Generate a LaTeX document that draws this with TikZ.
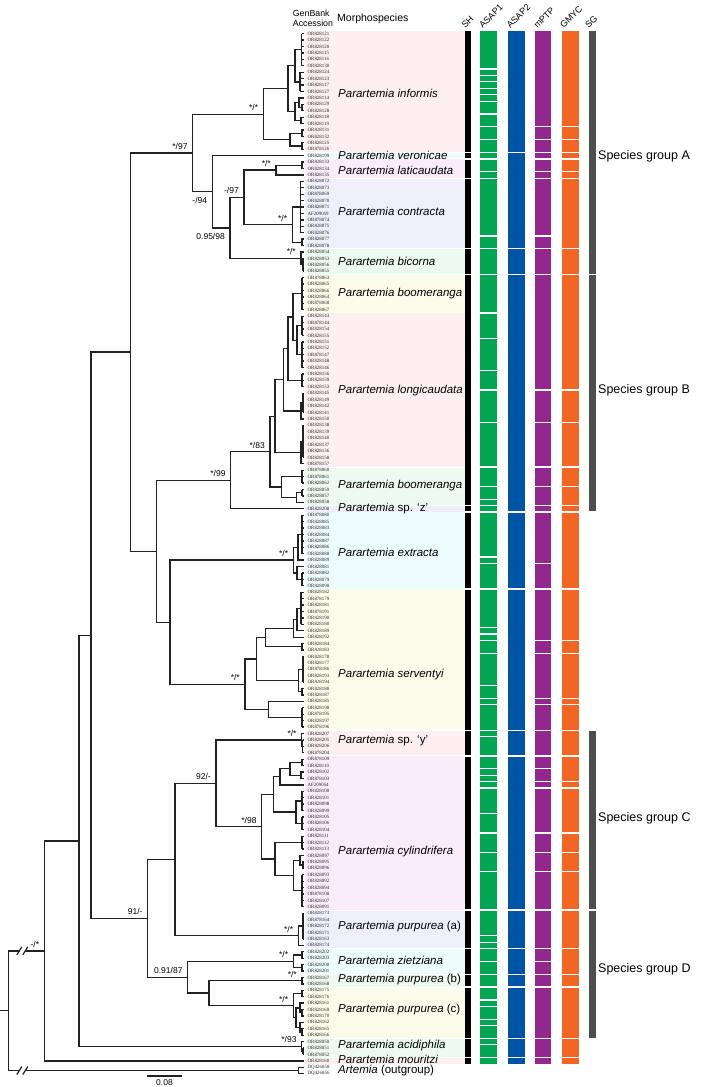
\documentclass[tikz,border=0pt]{standalone}
\usepackage{fontspec}
\setmainfont{Liberation Sans}
\newfontfamily\accfont{Liberation Serif}
\usetikzlibrary{calc}
\definecolor{brc}{HTML}{222222}
\definecolor{cA1}{HTML}{00A651}
\definecolor{cA2}{HTML}{0054A6}
\definecolor{cMP}{HTML}{92278F}
\definecolor{cGM}{HTML}{F26522}
\definecolor{cSG}{HTML}{4D4D4D}
\definecolor{bpk}{HTML}{FDEFF2}
\definecolor{bcy}{HTML}{EDFCFC}
\definecolor{bmg}{HTML}{FBECFA}
\definecolor{blv}{HTML}{EFEFFB}
\definecolor{bmt}{HTML}{ECFAEF}
\definecolor{byl}{HTML}{FCFCEA}
\newcommand\ty[1]{(33.7+(#1-1)*6.42)}
\newcommand\cl[4]{\coordinate (#1m) at ($(#3)!.5!(#4)$);\coordinate (xx) at (#2,0);\coordinate (#1) at (xx |- #1m);\draw[br] (#3) -- (#1 |- #3) -- (#1 |- #4) -- (#4);}
\newcommand\ml[4]{\coordinate (#1m) at ($(t#3)!.5!(t#4)$);\coordinate (xx) at (#2,0);\coordinate (#1) at (xx |- #1m);\draw[br] (#1 |- t#3) -- (#1 |- t#4);\foreach \k in {#3,...,#4}{\draw[br] (#1 |- t\k) -- (t\k);}}
\newcommand\segs[4]{\foreach \i/\j in {#4}{\fill[#1] (#2,{\ty{\i}-2.6}) rectangle (#3,{\ty{\j}+2.6});}}
\newcommand\band[3]{\fill[#1] (305,{\ty{#2}-2.75}) rectangle (465,{\ty{#3}+2.75});}
\newcommand\supa[3]{\node[sup,anchor=base east] (#1) at ($(#2)+(-5,-3.5)$) {#3};}
\newcommand\supb[3]{\node[sup,anchor=north east] (#1) at ($(#2)+(-5,5.5)$) {#3};}
\def\acclist{OR828121,OR828122,OR828120,OR828115,OR828116,OR828130,OR828124,OR828123,OR828117,OR828127,OR828114,OR828129,OR828128,OR828118,OR828119,OR828131,OR828132,OR828125,OR878126,%
OR828199,OR828133,OR828134,OR828135,%
OR828072,OR828073,OR878069,OR828070,OR828071,AF209059,OR878074,OR828075,OR828076,OR828077,OR828078,%
OR828054,OR828053,OR828056,OR828055,%
OR878063,OR828065,OR828066,OR828064,OR878068,OR828067,%
OR828143,OR878144,OR828154,OR828155,OR828151,OR828152,OR878147,OR828148,OR828146,OR828156,OR828159,OR828153,OR828145,OR828149,OR828142,OR828141,OR828150,OR828138,OR828139,OR828140,OR828137,OR828136,OR828158,OR878157,%
OR878060,OR878061,OR828062,OR828059,OR828057,OR828058,OR828208,%
OR878080,OR828085,OR828083,OR828084,OR828087,OR828086,OR828088,OR828089,OR828081,OR828082,OR828079,OR828090,%
OR828182,OR878179,OR828181,OR878191,OR828190,OR828180,OR828189,OR828192,OR828184,OR828183,OR828178,OR828177,OR878186,OR828193,OR828194,OR828188,OR828187,OR828185,OR828198,OR878195,OR828197,OR878196,%
OR828207,OR828205,OR828206,OR878204,%
OR878109,OR828110,OR828102,OR878103,AF209054,OR828100,OR828101,OR828098,OR828099,OR828105,OR828106,OR828104,OR828111,OR828112,OR828113,OR828097,OR828095,OR828096,OR828093,OR828092,OR828094,OR878108,OR828107,OR828091,%
OR828173,OR878164,OR828172,OR828171,OR828163,OR828174,%
OR828202,OR828203,OR828200,OR828201,OR828167,OR828168,%
OR828175,OR828176,OR828161,OR828169,OR828170,OR828162,OR828165,OR828166,%
OR828050,OR828051,OR878052,OR828160,DQ426858,DQ426856}
\begin{document}
\begin{tikzpicture}[x=1pt,y=-1pt,
  br/.style={draw=brc,line width=1.3pt},
  brk/.style={draw=brc,line width=1.2pt},
  acc/.style={font=\accfont\fontsize{4.9}{5}\selectfont,text=black!85,inner sep=0pt,anchor=west},
  sp/.style={font=\fontsize{11.5}{13}\selectfont,inner sep=0pt,anchor=west},
  sup/.style={font=\fontsize{8.5}{10}\selectfont,inner sep=0pt},
  hd/.style={font=\fontsize{9}{10}\selectfont,inner sep=0pt,rotate=45,anchor=south west},
  sg/.style={font=\fontsize{12.5}{14}\selectfont,inner sep=0pt,anchor=west}]
\useasboundingbox (0,0) rectangle (707,1087);
% background bands
\band{bpk}{1}{19}\band{bcy}{20}{20}\band{bmg}{21}{23}\band{blv}{24}{34}\band{bmt}{35}{38}
\band{byl}{39}{44}\band{bpk}{45}{68}\band{bmt}{69}{74}\band{blv}{75}{75}\band{bcy}{76}{87}
\band{byl}{88}{109}\band{bpk}{110}{113}\band{bmg}{114}{137}\band{blv}{138}{143}\band{bcy}{144}{147}
\band{bmt}{148}{149}\band{byl}{150}{157}\band{bmt}{158}{160}\band{bpk}{161}{161}
% tips
\foreach \a [count=\i] in \acclist {
  \coordinate (t\i) at (303.5,{\ty{\i}});
  \node[acc] (acc\i) at (307.5,{\ty{\i}}) {\a};
}
% group A
\ml{iaa}{301.5}{1}{6}
\ml{iab}{300}{7}{10}
\cl{ia}{295}{iaa}{iab}
\ml{iba}{302}{12}{13}
\cl{ibb}{299}{t11}{iba}
\cl{ibc}{301}{t14}{t15}
\cl{ib}{295}{ibb}{ibc}
\cl{iu}{288}{ia}{ib}
\cl{ila}{302}{t16}{t17}
\cl{ilb}{302}{t18}{t19}
\cl{il}{290}{ila}{ilb}
\cl{inf}{263.3}{iu}{il}
\cl{laa}{302}{t21}{t22}
\cl{lat}{276}{laa}{t23}
\ml{coa}{300.5}{24}{32}
\cl{cob}{302}{t33}{t34}
\cl{con}{292.3}{coa}{cob}
\ml{bia}{303}{36}{38}
\cl{bic}{301}{t35}{bia}
\cl{aiv}{244}{lat}{con}
\cl{aiii}{230}{aiv}{bic}
\cl{aii}{212.3}{t20}{aiii}
\cl{ai}{192.7}{inf}{aii}
% group B
\ml{boa}{302}{39}{44}
\ml{loa}{302}{45}{48}
\ml{lob}{302}{49}{53}
\cl{loab}{297}{loa}{lob}
\cl{bx}{293}{boa}{loab}
\ml{loc}{302}{54}{56}
\cl{lz}{288}{bx}{loc}
\ml{loda}{303}{57}{60}
\cl{lod}{301}{loda}{t61}
\cl{ly}{283.3}{lz}{lod}
\ml{loea}{303}{62}{67}
\cl{loe}{301}{loea}{t68}
\cl{lx}{275}{ly}{loe}
\ml{bob}{302}{69}{71}
\ml{boc}{302}{72}{73}
\cl{bod}{296.7}{boc}{t74}
\cl{boe}{281.7}{bob}{bod}
\cl{bi}{270}{lx}{boe}
\cl{bz}{230.7}{bi}{t75}
% extracta
\ml{exa}{302}{76}{82}
\cl{exb}{298}{exa}{t83}
\ml{exc}{302}{85}{87}
\cl{exd}{297}{t84}{exc}
\cl{ext}{293.3}{exb}{exd}
% serventyi
\ml{sep}{301}{88}{93}
\cl{sex}{297}{sep}{t94}
\cl{sea}{293.3}{sex}{t95}
\cl{seb}{302}{t96}{t97}
\cl{sei}{265.7}{sea}{seb}
\ml{sec}{303}{98}{102}
\cl{sed}{302}{t103}{t104}
\cl{seii}{298.3}{sec}{sed}
\cl{sexii}{256.7}{sei}{seii}
\ml{see}{302}{106}{109}
\cl{seiii}{268.3}{t105}{see}
\cl{ser}{245}{sexii}{seiii}
\cl{es}{170}{ext}{ser}
\cl{bes}{156.7}{bz}{es}
\cl{ab}{130.7}{ai}{bes}
% group C
\ml{yya}{302.5}{111}{113}
\cl{yy}{301.7}{t110}{yya}
\cl{cyaa}{302}{t114}{t115}
\cl{cyab}{301}{t116}{t117}
\cl{cya}{290}{cyaa}{cyab}
\cl{cyb}{280}{cya}{t118}
\ml{cyca}{302}{119}{122}
\ml{cycb}{302}{123}{125}
\cl{cyc}{296}{cyca}{cycb}
\cl{cyu}{273.3}{cyb}{cyc}
\ml{cyd}{302}{126}{128}
\cl{cyea}{303}{t130}{t131}
\cl{cyeb}{300}{t129}{cyea}
\ml{cyec}{302}{132}{137}
\cl{cye}{293.3}{cyeb}{cyec}
\cl{cyl}{275}{cyd}{cye}
\cl{cy}{261.7}{cyu}{cyl}
\cl{yc}{216}{yy}{cy}
\ml{paa}{303}{138}{142}
\cl{pa}{298.3}{paa}{t143}
\cl{cc}{175}{yc}{pa}
% group D
\cl{zia}{302}{t144}{t145}
\cl{zib}{302}{t146}{t147}
\cl{zi}{293.3}{zia}{zib}
\cl{pb}{302}{t148}{t149}
\cl{pca}{302}{t150}{t151}
\cl{pcba}{302}{t153}{t154}
\cl{pcb}{300}{t152}{pcba}
\cl{pcca}{302}{t156}{t157}
\cl{pcc}{300}{t155}{pcca}
\cl{pcd}{296}{pcb}{pcc}
\cl{pc}{293.3}{pca}{pcd}
\cl{nbc}{209}{pb}{pc}
\cl{dd}{187.7}{zi}{nbc}
\cl{cd}{147.7}{cc}{dd}
\cl{nn}{91}{ab}{cd}
\ml{aca}{303}{159}{160}
\cl{ac}{301.7}{t158}{aca}
\cl{nsv}{79}{nn}{ac}
\cl{nfr}{44.3}{nsv}{t161}
\cl{art}{298.3}{t162}{t163}
\cl{root}{8.3}{nfr}{art}
\coordinate (xx) at (0,0);
\coordinate (rin) at (xx |- root);
\draw[br] (rin) -- (root);
% break marks
\foreach \b/\c in {bka/nfr,bkb/art}{
  \coordinate (\b) at ($(root |- \c)+(14,0)$);
  \fill[white] ($(\b)+(-2.4,-2)$) rectangle ($(\b)+(2.4,2)$);
  \draw[brk] ($(\b)+(-5.5,4)$) -- ($(\b)+(-0.5,-4)$);
  \draw[brk] ($(\b)+(0.5,4)$) -- ($(\b)+(5.5,-4)$);
}
% support values
\supa{s1}{ai}{*/97}
\supa{s2}{inf}{*/*}
\supb{s3}{aii}{-/94}
\supa{s4}{aiv}{-/97}
\supb{s5}{aiii}{0.95/98}
\supa{s6}{lat}{*/*}
\supa{s7}{con}{*/*}
\supa{s8}{bic}{*/*}
\supa{s9}{bz}{*/99}
\supa{s10}{bi}{*/83}
\supa{s11}{ext}{*/*}
\supa{s12}{ser}{*/*}
\supa{s13}{yy}{*/*}
\supa{s14}{yc}{92/-}
\supa{s15}{cy}{*/98}
\supa{s16}{cd}{91/-}
\supa{s17}{pa}{*/*}
\supa{s18}{dd}{0.91/87}
\supa{s19}{zi}{*/*}
\supa{s20}{pb}{*/*}
\supa{s21}{pc}{*/*}
\supa{s22}{ac}{*/93}
\supa{s23}{nfr}{-/*}
% scale bar
\coordinate (sba) at (146.7,1076);
\coordinate (sbb) at (182.3,1076);
\draw[br] (sba) -- (sbb);
\node[sup] (sbl) at (164.5,1082.3) {0.08};
% species labels
\node[sp] (sp1) at (338,93.3) {\itshape Parartemia informis};
\node[sp] (sp2) at (338,155.5) {\itshape Parartemia veronicae};
\node[sp] (sp3) at (338,170) {\itshape Parartemia laticaudata};
\node[sp] (sp4) at (338,211.7) {\itshape Parartemia contracta};
\node[sp] (sp5) at (338,261.7) {\itshape Parartemia bicorna};
\node[sp] (sp6) at (338,293.3) {\itshape Parartemia boomeranga};
\node[sp] (sp7) at (338,390.7) {\itshape Parartemia longicaudata};
\node[sp] (sp8) at (338,485.7) {\itshape Parartemia boomeranga};
\node[sp] (sp9) at (338,508.5) {\textit{Parartemia} sp. ‘z’};
\node[sp] (sp10) at (338,552.7) {\itshape Parartemia extracta};
\node[sp] (sp11) at (338,675) {\itshape Parartemia serventyi};
\node[sp] (sp12) at (338,741) {\textit{Parartemia} sp. ‘y’};
\node[sp] (sp13) at (338,851.7) {\itshape Parartemia cylindrifera};
\node[sp] (sp14) at (338,927) {\textit{Parartemia purpurea} (a)};
\node[sp] (sp15) at (338,960) {\itshape Parartemia zietziana};
\node[sp] (sp16) at (338,979.3) {\textit{Parartemia purpurea} (b)};
\node[sp] (sp17) at (338,1010) {\textit{Parartemia purpurea} (c)};
\node[sp] (sp18) at (338,1046) {\itshape Parartemia acidiphila};
\node[sp] (sp19) at (338,1059.5) {\itshape Parartemia mouritzi};
\node[sp] (sp20) at (338,1070.7) {\textit{Artemia} (outgroup)};
% delimitation bars
\segs{black}{465}{471}{1/19,20/20,21/23,24/34,35/38,39/74,75/75,76/87,88/109,110/113,114/137,138/143,144/147,148/149,150/157,158/160,161/161}
\segs{cA1}{480}{496.5}{1/6,7/7,8/8,9/9,10/10,11/11,12/13,14/15,16/17,18/19,20/20,21/22,23/23,24/32,33/34,35/38,39/44,45/48,49/53,54/56,57/61,62/68,69/71,72/73,74/74,75/75,76/82,83/83,84/87,88/93,94/94,95/95,96/97,98/102,103/104,105/105,106/109,110/110,111/113,114/115,116/116,117/117,118/118,119/122,123/125,126/128,129/131,132/137,138/141,142/142,143/143,144/145,146/147,148/149,150/151,152/152,153/154,155/155,156/157,158/158,159/160,161/161}
\segs{cA2}{507.5}{524.5}{1/19,20/34,35/38,39/75,76/87,88/109,110/113,114/137,138/143,144/147,148/149,150/157,158/160,161/161}
\segs{cMP}{535}{551}{1/15,16/17,18/19,20/20,21/22,23/23,24/32,33/34,35/38,39/56,57/61,62/68,69/71,72/74,75/75,76/83,84/87,88/95,96/97,98/104,105/105,106/109,110/113,114/115,116/117,118/118,119/125,126/128,129/131,132/137,138/143,144/145,146/147,148/149,150/157,158/160,161/161}
\segs{cGM}{561.5}{578.5}{1/15,16/17,18/19,20/20,21/22,23/23,24/34,35/38,39/56,57/61,62/68,69/71,72/74,75/75,76/87,88/95,96/97,98/104,105/105,106/109,110/113,114/117,118/118,119/125,126/128,129/131,132/137,138/143,144/147,148/149,150/157,158/160,161/161}
\segs{cSG}{589}{595.5}{1/38,39/75,110/137,138/157}
% headers
\node[font=\fontsize{8.8}{10}\selectfont,align=left,anchor=west,inner sep=0pt] (gb) at (292.7,18) {GenBank\\Accession};
\node[font=\fontsize{10.5}{12}\selectfont,anchor=west,inner sep=0pt] (mo) at (337,18.3) {Morphospecies};
\node[hd] (h1) at (465.5,29) {SH};
\node[hd] (h2) at (483,29) {ASAP1};
\node[hd] (h3) at (510.5,29) {ASAP2};
\node[hd] (h4) at (537.5,29) {mPTP};
\node[hd] (h5) at (564,29) {GMYC};
\node[hd] (h6) at (589,29) {SG};
% species groups
\node[sg] (g1) at (598,156) {Species group A};
\node[sg] (g2) at (598,390) {Species group B};
\node[sg] (g3) at (598,818) {Species group C};
\node[sg] (g4) at (598,969) {Species group D};
\end{tikzpicture}
\end{document}
